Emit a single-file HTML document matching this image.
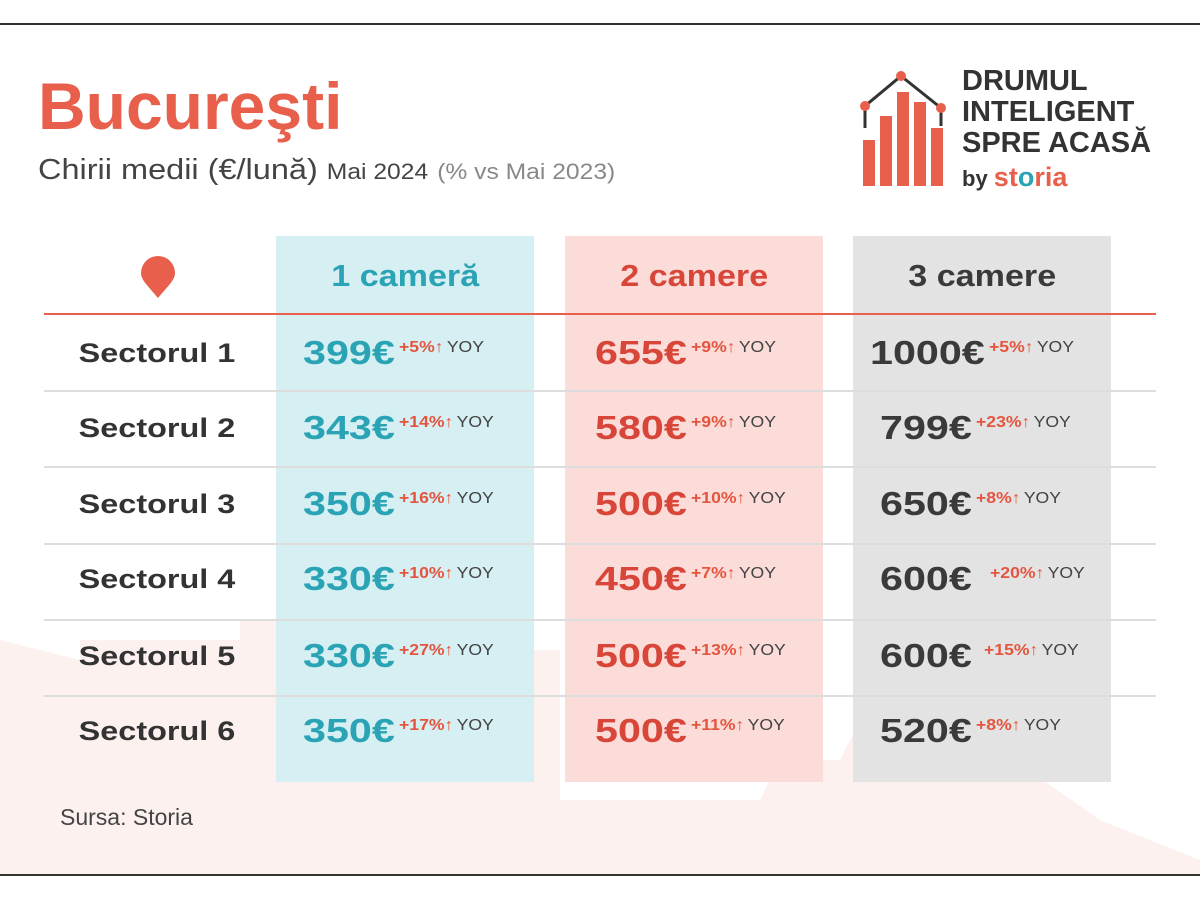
<!DOCTYPE html>
<html><head><meta charset="utf-8"><style>
*{margin:0;padding:0;box-sizing:border-box}
body{width:1200px;height:900px;background:#fff;position:relative;overflow:hidden;font-family:"Liberation Sans",sans-serif}
.a{position:absolute;white-space:nowrap}
.col{position:absolute;top:236px;height:546px;width:258px}
.h{position:absolute;top:258px;font-size:31px;font-weight:bold;width:258px;text-align:center}
.h span{display:inline-block;transform:scaleX(1.1)}
.lbl{position:absolute;left:157px;font-size:27px;font-weight:bold;color:#333;transform:translateX(-50%) scaleX(1.2);white-space:nowrap}
.n{position:absolute;font-size:33px;font-weight:bold;transform:scaleX(1.25);transform-origin:left;white-space:nowrap}
.p{position:absolute;font-size:16px;font-weight:bold;color:#e4553f;white-space:nowrap;transform:scaleX(1.1);transform-origin:left}
.p b{font-weight:normal;color:#444;margin-left:3px}
.sep{position:absolute;left:44px;width:1112px;height:2px;background:#ddd}
</style></head><body>
<div class="a" style="left:0;top:23px;width:1200px;height:2px;background:#333"></div>
<div class="a" style="left:0;top:874px;width:1200px;height:2px;background:#333"></div>
<svg class="a" style="left:0;top:600px" width="1200" height="274"><path d="M0 40 L80 60 L80 40 L240 40 L240 20 L300 20 L300 50 L560 50 L560 200 L760 200 L780 160 L840 160 L860 120 L880 150 L900 150 L950 130 L1000 150 L1100 220 L1200 260 L1200 274 L0 274Z" fill="#fdf1f0"/></svg>
<div class="a" style="left:38px;top:68px;font-size:66px;font-weight:bold;color:#e8604c">Bucureşti</div>
<div class="a" style="left:38px;top:154px;font-size:29px;color:#444;transform:scaleX(1.12);transform-origin:left">Chirii medii (€/lună) <span style="font-size:22px">Mai 2024</span> <span style="font-size:22px;color:#888">(% vs Mai 2023)</span></div>
<svg class="a" style="left:855px;top:68px" width="100" height="120"><g fill="#e8604c"><rect x="8" y="72" width="12" height="46"/><rect x="25" y="48" width="12" height="70"/><rect x="42" y="24" width="12" height="94"/><rect x="59" y="34" width="12" height="84"/><rect x="76" y="60" width="12" height="58"/></g><polyline points="10,60 10,38 46,8 86,40 86,58" fill="none" stroke="#333" stroke-width="3"/><g fill="#e8604c"><circle cx="10" cy="38" r="5"/><circle cx="46" cy="8" r="5"/><circle cx="86" cy="40" r="5"/></g></svg>
<div class="a" style="left:962px;top:66px;font-size:29px;font-weight:bold;color:#333;line-height:31px">DRUMUL<br>INTELIGENT<br>SPRE ACASĂ</div>
<div class="a" style="left:962px;top:162px;font-size:22px;font-weight:bold;color:#333">by <span style="color:#e8604c;font-size:27px">st<span style="color:#2aa3b5">o</span>ria</span></div>
<div class="col" style="left:276px;background:#d5eff2"></div>
<div class="col" style="left:565px;background:#fbdcd8"></div>
<div class="col" style="left:853px;background:#e3e3e3"></div>
<svg class="a" style="left:140px;top:256px" width="36" height="44"><path d="M18 42 C8 30 1 24 1 17 A17 17 0 0 1 35 17 C35 24 28 30 18 42Z" fill="#e8604c"/></svg>
<div class="h" style="left:276px;color:#2aa3b5"><span>1 cameră</span></div>
<div class="h" style="left:565px;color:#d8463a"><span>2 camere</span></div>
<div class="h" style="left:853px;color:#3a3a3a"><span>3 camere</span></div>
<div class="a" style="left:44px;top:313px;width:1112px;height:2px;background:#e8604c"></div>
<div class="sep" style="top:390px"></div><div class="sep" style="top:466px"></div><div class="sep" style="top:543px"></div><div class="sep" style="top:619px"></div><div class="sep" style="top:695px"></div>

<div class="lbl" style="top:338px">Sectorul 1</div>
<div class="lbl" style="top:413px">Sectorul 2</div>
<div class="lbl" style="top:489px">Sectorul 3</div>
<div class="lbl" style="top:564px">Sectorul 4</div>
<div class="lbl" style="top:641px">Sectorul 5</div>
<div class="lbl" style="top:716px">Sectorul 6</div>

<div class="n" style="left:303px;top:334px;color:#2aa3b5">399€</div><div class="p" style="left:399px;top:339px">+5%↑<b>YOY</b></div>
<div class="n" style="left:303px;top:409px;color:#2aa3b5">343€</div><div class="p" style="left:399px;top:414px">+14%↑<b>YOY</b></div>
<div class="n" style="left:303px;top:485px;color:#2aa3b5">350€</div><div class="p" style="left:399px;top:490px">+16%↑<b>YOY</b></div>
<div class="n" style="left:303px;top:560px;color:#2aa3b5">330€</div><div class="p" style="left:399px;top:565px">+10%↑<b>YOY</b></div>
<div class="n" style="left:303px;top:637px;color:#2aa3b5">330€</div><div class="p" style="left:399px;top:642px">+27%↑<b>YOY</b></div>
<div class="n" style="left:303px;top:712px;color:#2aa3b5">350€</div><div class="p" style="left:399px;top:717px">+17%↑<b>YOY</b></div>

<div class="n" style="left:595px;top:334px;color:#d8463a">655€</div><div class="p" style="left:691px;top:339px">+9%↑<b>YOY</b></div>
<div class="n" style="left:595px;top:409px;color:#d8463a">580€</div><div class="p" style="left:691px;top:414px">+9%↑<b>YOY</b></div>
<div class="n" style="left:595px;top:485px;color:#d8463a">500€</div><div class="p" style="left:691px;top:490px">+10%↑<b>YOY</b></div>
<div class="n" style="left:595px;top:560px;color:#d8463a">450€</div><div class="p" style="left:691px;top:565px">+7%↑<b>YOY</b></div>
<div class="n" style="left:595px;top:637px;color:#d8463a">500€</div><div class="p" style="left:691px;top:642px">+13%↑<b>YOY</b></div>
<div class="n" style="left:595px;top:712px;color:#d8463a">500€</div><div class="p" style="left:691px;top:717px">+11%↑<b>YOY</b></div>

<div class="n" style="left:870px;top:334px;color:#3a3a3a">1000€</div><div class="p" style="left:989px;top:339px">+5%↑<b>YOY</b></div>
<div class="n" style="left:880px;top:409px;color:#3a3a3a">799€</div><div class="p" style="left:976px;top:414px">+23%↑<b>YOY</b></div>
<div class="n" style="left:880px;top:485px;color:#3a3a3a">650€</div><div class="p" style="left:976px;top:490px">+8%↑<b>YOY</b></div>
<div class="n" style="left:880px;top:560px;color:#3a3a3a">600€</div><div class="p" style="left:990px;top:565px">+20%↑<b>YOY</b></div>
<div class="n" style="left:880px;top:637px;color:#3a3a3a">600€</div><div class="p" style="left:984px;top:642px">+15%↑<b>YOY</b></div>
<div class="n" style="left:880px;top:712px;color:#3a3a3a">520€</div><div class="p" style="left:976px;top:717px">+8%↑<b>YOY</b></div>

<div class="a" style="left:60px;top:804px;font-size:23px;color:#444">Sursa: Storia</div>
</body></html>
